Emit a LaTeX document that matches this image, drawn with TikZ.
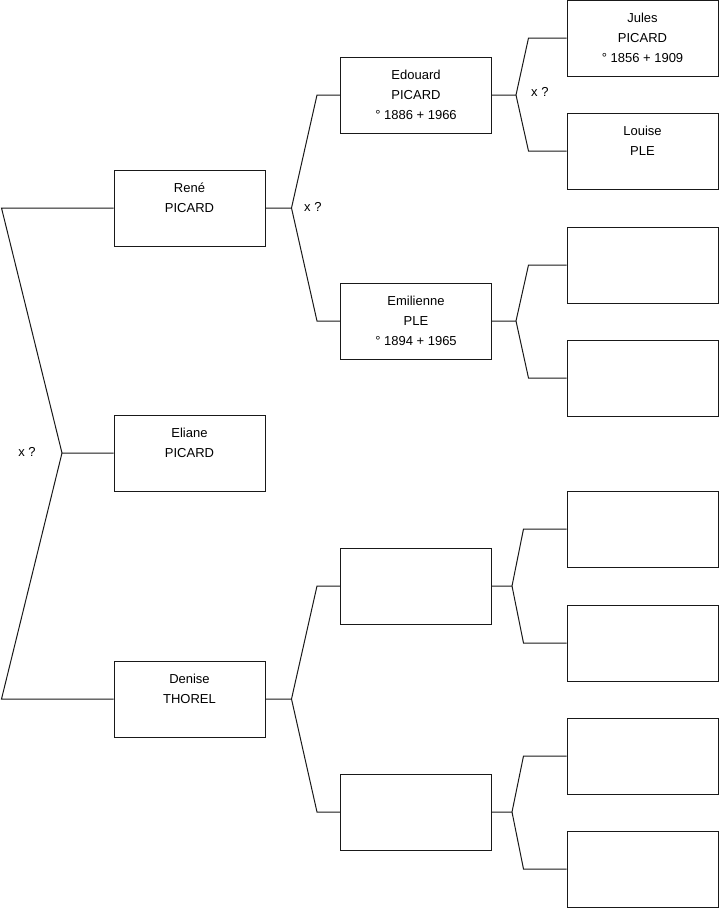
\documentclass[tikz,border=0pt]{standalone}
\usepackage{fontspec}
\setmainfont{Liberation Sans}
\usetikzlibrary{positioning, calc}

\begin{document}
\begin{tikzpicture}[x=1pt, y=-1pt,
  person/.style={
    draw=black!90, line width=1pt, fill=white,
    minimum width=151pt, minimum height=76pt, inner sep=0pt
  },
  names/.style={
    anchor=north, align=center, inner sep=0pt, yshift=-13pt,
    font=\fontsize{13}{20}\selectfont
  },
  union/.style={font=\fontsize{13}{15}\selectfont, inner sep=0pt},
  link/.style={draw=black!90, line width=1pt},
]
\useasboundingbox (0,0) rectangle (719,908);

% generation 1
\node[person, label={[names]north:{René\\PICARD}}]     (rene)   at (189.5,208) {};
\node[person, label={[names]north:{Eliane\\PICARD}}]   (eliane) at (189.5,453) {};
\node[person, label={[names]north:{Denise\\THOREL}}]   (denise) at (189.5,699) {};

% generation 2
\node[person, label={[names]north:{Edouard\\PICARD\\° 1886 + 1966}}]   (edouard)   at (416,95)  {};
\node[person, label={[names]north:{Emilienne\\PLE\\° 1894 + 1965}}]    (emilienne) at (416,321) {};
\node[person] (unka) at (416,586) {};
\node[person] (unkb) at (416,812) {};

% generation 3
\node[person, label={[names]north:{Jules\\PICARD\\° 1856 + 1909}}] (jules)  at (642.5,38)  {};
\node[person, label={[names]north:{Louise\\PLE}}]                  (louise) at (642.5,151) {};
\node[person] (g3c) at (642.5,265) {};
\node[person] (g3d) at (642.5,378) {};
\node[person] (g3e) at (642.5,529) {};
\node[person] (g3f) at (642.5,643) {};
\node[person] (g3g) at (642.5,756) {};
\node[person] (g3h) at (642.5,869) {};

% couple of the first generation, child in between
\coordinate (jc) at (62,453);
\draw[link] (eliane.west) -- (jc) -- ([xshift=-112pt]rene.west) -- (rene.west);
\draw[link] (jc) -- ([xshift=-112pt]denise.west) -- (denise.west);
\node[union] (uc) at (27,452) {x ?};

% parents of generation 1
\foreach \k/\f/\m in {rene/edouard/emilienne, denise/unka/unkb} {
  \draw[link] (\k.east) -- ++(26,0) coordinate (j\k)
    -- ([xshift=-23pt]\f.west) -- (\f.west);
  \draw[link] (j\k) -- ([xshift=-23pt]\m.west) -- (\m.west);
}
\node[union, anchor=west] (ur) at (304,207) {x ?};

% parents of generation 2
\foreach \k/\f/\m/\o/\c in {edouard/jules/louise/24/38, emilienne/g3c/g3d/24/38,
                           unka/g3e/g3f/20/43, unkb/g3g/g3h/20/43} {
  \draw[link] (\k.east) -- ++(\o,0) coordinate (j\k)
    -- ([xshift=-\c pt]\f.west) -- (\f.west);
  \draw[link] (j\k) -- ([xshift=-\c pt]\m.west) -- (\m.west);
}
\node[union, anchor=west] (ue) at (531,92) {x ?};
\end{tikzpicture}
\end{document}
